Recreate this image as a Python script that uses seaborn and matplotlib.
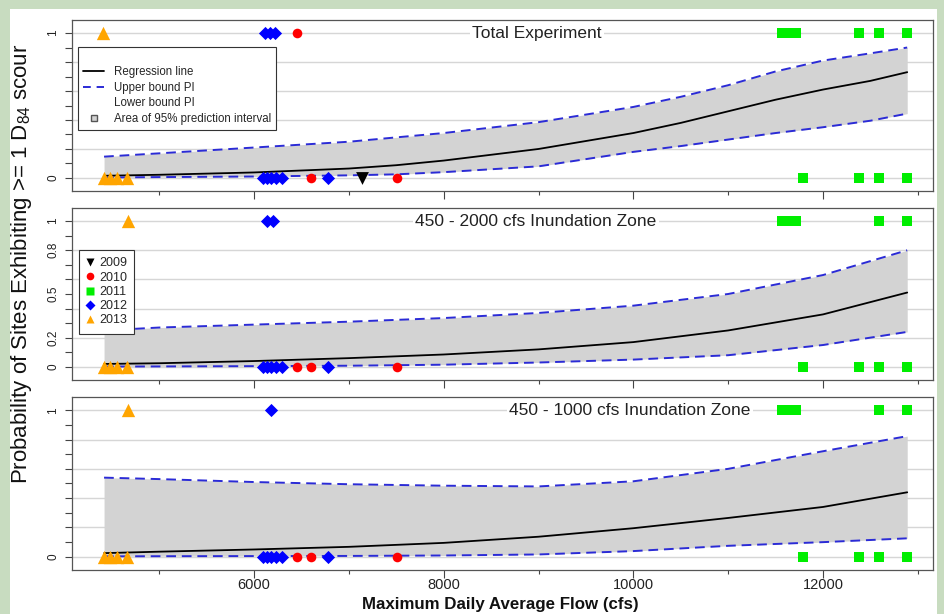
import numpy as np
import pandas as pd
import matplotlib
matplotlib.use("Agg")
import matplotlib.pyplot as plt
import matplotlib.transforms as mtransforms
import seaborn as sns
from matplotlib.lines import Line2D
from matplotlib.patches import Rectangle

sns.set_style("white")
plt.rcParams["font.family"] = ["Liberation Sans", "DejaVu Sans"]
plt.rcParams["mathtext.default"] = "regular"

# ---------------- data ----------------
PANEL_TITLES = ["Total Experiment", "450 - 2000 cfs Inundation Zone", "450 - 1000 cfs Inundation Zone"]
YEARS = ["2009", "2010", "2011", "2012", "2013"]

# regression curves
total_x = [4418, 5000, 6000, 7000, 7500, 8000, 9000, 10000, 10500, 11000, 11500, 12000, 12500, 12888]
total_fit = [0.015, 0.022, 0.038, 0.065, 0.088, 0.12, 0.20, 0.31, 0.38, 0.46, 0.54, 0.61, 0.67, 0.73]
total_up = [0.147, 0.17, 0.21, 0.25, 0.28, 0.31, 0.385, 0.49, 0.56, 0.64, 0.735, 0.81, 0.86, 0.90]
total_lo = [0.003, 0.006, 0.01, 0.018, 0.025, 0.04, 0.08, 0.18, 0.22, 0.265, 0.31, 0.35, 0.395, 0.444]

z2000_x = [4418, 5000, 6000, 7000, 8000, 9000, 10000, 11000, 12000, 12888]
z2000_fit = [0.02, 0.025, 0.04, 0.06, 0.085, 0.12, 0.17, 0.25, 0.36, 0.51]
z2000_up = [0.25, 0.27, 0.29, 0.31, 0.335, 0.37, 0.42, 0.50, 0.63, 0.80]
z2000_lo = [0.002, 0.003, 0.005, 0.008, 0.015, 0.03, 0.05, 0.08, 0.15, 0.24]

z1000_x = [4418, 5000, 6000, 7000, 8000, 9000, 10000, 11000, 12000, 12888]
z1000_fit = [0.025, 0.035, 0.05, 0.068, 0.095, 0.137, 0.195, 0.265, 0.34, 0.44]
z1000_up = [0.54, 0.53, 0.51, 0.495, 0.485, 0.48, 0.515, 0.60, 0.72, 0.823]
z1000_lo = [0.003, 0.004, 0.005, 0.006, 0.009, 0.016, 0.039, 0.075, 0.10, 0.126]

# observed sites (flow, scour 0/1)
total_2009_x = [7140]
total_2009_y = [0]
total_2010_x = [6450, 6600, 7510]
total_2010_y = [1, 0, 0]
total_2011_x = [11570, 11640, 11710, 12382, 12593, 12888, 11791, 12382, 12593, 12888]
total_2011_y = [1, 1, 1, 1, 1, 1, 0, 0, 0, 0]
total_2012_x = [6120, 6170, 6220, 6090, 6140, 6180, 6230, 6290, 6780]
total_2012_y = [1, 1, 1, 0, 0, 0, 0, 0, 0]
total_2013_x = [4407, 4418, 4480, 4550, 4660]
total_2013_y = [1, 0, 0, 0, 0]

z2000_2009_x = []
z2000_2009_y = []
z2000_2010_x = [6450, 6600, 7510]
z2000_2010_y = [0, 0, 0]
z2000_2011_x = [11570, 11640, 11710, 12593, 12888, 11791, 12382, 12593, 12888]
z2000_2011_y = [1, 1, 1, 1, 1, 0, 0, 0, 0]
z2000_2012_x = [6140, 6200, 6090, 6140, 6180, 6230, 6290, 6780]
z2000_2012_y = [1, 1, 0, 0, 0, 0, 0, 0]
z2000_2013_x = [4670, 4418, 4480, 4550, 4660]
z2000_2013_y = [1, 0, 0, 0, 0]

z1000_2009_x = []
z1000_2009_y = []
z1000_2010_x = [6450, 6600, 7510]
z1000_2010_y = [0, 0, 0]
z1000_2011_x = [11570, 11640, 11710, 12593, 12888, 11791, 12382, 12593, 12888]
z1000_2011_y = [1, 1, 1, 1, 1, 0, 0, 0, 0]
z1000_2012_x = [6180, 6090, 6140, 6180, 6230, 6290, 6780]
z1000_2012_y = [1, 0, 0, 0, 0, 0, 0]
z1000_2013_x = [4670, 4418, 4480, 4550, 4660]
z1000_2013_y = [1, 0, 0, 0, 0]

X_MAJOR = [6000, 8000, 10000, 12000]
X_MINOR = [5000, 7000, 9000, 11000, 13000]
Y_TICKS = [0, 0.1, 0.2, 0.3, 0.4, 0.5, 0.6, 0.7, 0.8, 0.9, 1.0]
Y_LABELS_OUTER = ["0", "", "", "", "", "", "", "", "", "", "1"]
Y_LABELS_MID = ["0", "", "0.2", "", "", "0.5", "", "", "0.8", "", "1"]
GRID_LEVELS = [0, 0.2, 0.4, 0.6, 0.8, 1.0]

# ---------------- styles ----------------
COLORS = {"2009": "black", "2010": "#ff0000", "2011": "#00ee00", "2012": "#0000ff", "2013": "#ffa500"}
MARKERS = {"2009": "v", "2010": "o", "2011": "s", "2012": "D", "2013": "^"}
SIZES = {"2009": 85, "2010": 48, "2011": 55, "2012": 45, "2013": 92}
PI_BLUE = "#2b2bd6"
FILL = "#d3d3d3"

curves = [
    (total_x, total_fit, total_up, total_lo),
    (z2000_x, z2000_fit, z2000_up, z2000_lo),
    (z1000_x, z1000_fit, z1000_up, z1000_lo),
]
points = [
    {"2009": (total_2009_x, total_2009_y), "2010": (total_2010_x, total_2010_y),
     "2011": (total_2011_x, total_2011_y), "2012": (total_2012_x, total_2012_y),
     "2013": (total_2013_x, total_2013_y)},
    {"2009": (z2000_2009_x, z2000_2009_y), "2010": (z2000_2010_x, z2000_2010_y),
     "2011": (z2000_2011_x, z2000_2011_y), "2012": (z2000_2012_x, z2000_2012_y),
     "2013": (z2000_2013_x, z2000_2013_y)},
    {"2009": (z1000_2009_x, z1000_2009_y), "2010": (z1000_2010_x, z1000_2010_y),
     "2011": (z1000_2011_x, z1000_2011_y), "2012": (z1000_2012_x, z1000_2012_y),
     "2013": (z1000_2013_x, z1000_2013_y)},
]
title_xfrac = [0.54, 0.539, 0.648]
ylabels = [Y_LABELS_OUTER, Y_LABELS_MID, Y_LABELS_OUTER]

W, H = 945, 614
fig = plt.figure(figsize=(W / 100, H / 100), dpi=100, facecolor="#c8dcc0")
fig.patches.append(Rectangle((10 / W, 0), 927 / W, 1 - 9 / H, transform=fig.transFigure,
                             facecolor="white", edgecolor="none", zorder=-5))

panel_px = [(20, 191), (208, 380), (397, 570)]
left_px, right_px = 72, 933
axes = []
for i, (t, b) in enumerate(panel_px):
    ax = fig.add_axes([left_px / W, 1 - b / H, (right_px - left_px) / W, (b - t) / H])
    axes.append(ax)
    ax.set_facecolor("white")
    ax.set_xlim(4080, 13160)
    ax.set_ylim(-0.09, 1.09)
    for lvl in GRID_LEVELS:
        ax.axhline(lvl, color="#d6d6d6", lw=1.0, zorder=1)

    xs, fit, up, lo = curves[i]
    ax.fill_between(xs, lo, up, color=FILL, lw=0, zorder=2)
    sns.lineplot(x=xs, y=fit, color="black", lw=1.3, ax=ax, zorder=3)
    sns.lineplot(x=xs, y=up, color=PI_BLUE, lw=1.4, linestyle=(0, (5, 3)), ax=ax, zorder=3)
    sns.lineplot(x=xs, y=lo, color=PI_BLUE, lw=1.4, linestyle=(0, (5, 3)), ax=ax, zorder=3)

    for yr in YEARS:
        px, py = points[i][yr]
        if len(px) == 0:
            continue
        df = pd.DataFrame({"flow": px, "scour": py})
        sns.scatterplot(data=df, x="flow", y="scour", marker=MARKERS[yr], s=SIZES[yr],
                        color=COLORS[yr], linewidth=0, ax=ax, zorder=5, legend=False)

    trans = mtransforms.blended_transform_factory(ax.transAxes, ax.transData)
    ax.text(title_xfrac[i], 1.0, PANEL_TITLES[i], transform=trans, ha="center", va="center",
            fontsize=12.5, color="#222222", zorder=6,
            bbox=dict(facecolor="white", edgecolor="none", pad=1.5))

    ax.set_xticks(X_MAJOR)
    ax.set_xticks(X_MINOR, minor=True)
    ax.tick_params(axis="x", which="major", length=6, width=0.8, color="#444444",
                   labelsize=10.5, labelcolor="#222222", pad=0)
    ax.tick_params(axis="x", which="minor", length=3, width=0.8, color="#444444")
    if i < 2:
        ax.set_xticklabels([])
    ax.set_yticks(Y_TICKS)
    ax.set_yticklabels(ylabels[i], rotation=90, va="center")
    ax.tick_params(axis="y", which="major", length=5, width=0.8, color="#444444",
                   labelsize=8.5, labelcolor="#222222", pad=4, left=True)
    ax.tick_params(axis="x", bottom=True, which="both")
    for sp in ax.spines.values():
        sp.set_color("#555555")
        sp.set_linewidth(0.9)
    ax.set_xlabel("")
    ax.set_ylabel("")

# legends
h_top = [
    Line2D([], [], color="black", lw=1.3),
    Line2D([], [], color=PI_BLUE, lw=1.4, linestyle=(0, (4, 3))),
    Line2D([], [], color="none"),
    Line2D([], [], color="none", marker="s", markerfacecolor=FILL, markeredgecolor="#555555",
           markersize=5),
]
l_top = ["Regression line", "Upper bound PI", "Lower bound PI", "Area of 95% prediction interval"]
leg = axes[0].legend(h_top, l_top, loc="upper left", bbox_to_anchor=(0.007, 0.842), fontsize=8.3,
                     title=" ", title_fontsize=7, borderaxespad=0,
                     frameon=True, fancybox=False, framealpha=1, edgecolor="#333333",
                     borderpad=0.45, labelspacing=0.32, handlelength=1.8, handletextpad=0.85)
leg.get_frame().set_linewidth(0.8)
leg.set_zorder(10)

h_mid = [Line2D([], [], color="none", marker=MARKERS[yr], markerfacecolor=COLORS[yr],
                markeredgecolor="none", markersize=5.5) for yr in YEARS]
leg2 = axes[1].legend(h_mid, YEARS, loc="upper left", bbox_to_anchor=(0.008, 0.756), fontsize=9,
                      borderaxespad=0,
                      frameon=True, fancybox=False, framealpha=1, edgecolor="#333333",
                      borderpad=0.6, labelspacing=0.18, handlelength=0.6, handletextpad=0.4)
leg2.get_frame().set_linewidth(0.8)
leg2.set_zorder(10)

fig.text(500 / W, 1 - 604 / H, "Maximum Daily Average Flow (cfs)", ha="center", va="center",
         fontsize=12.2, fontweight="bold", color="#111111")
fig.text(22 / W, 1 - 264 / H, "Probability of Sites Exhibiting >= 1 D$_{84}$ scour", rotation=90,
         ha="center", va="center", fontsize=16, color="#111111")

fig.savefig("out.png", dpi=100, facecolor=fig.get_facecolor())
